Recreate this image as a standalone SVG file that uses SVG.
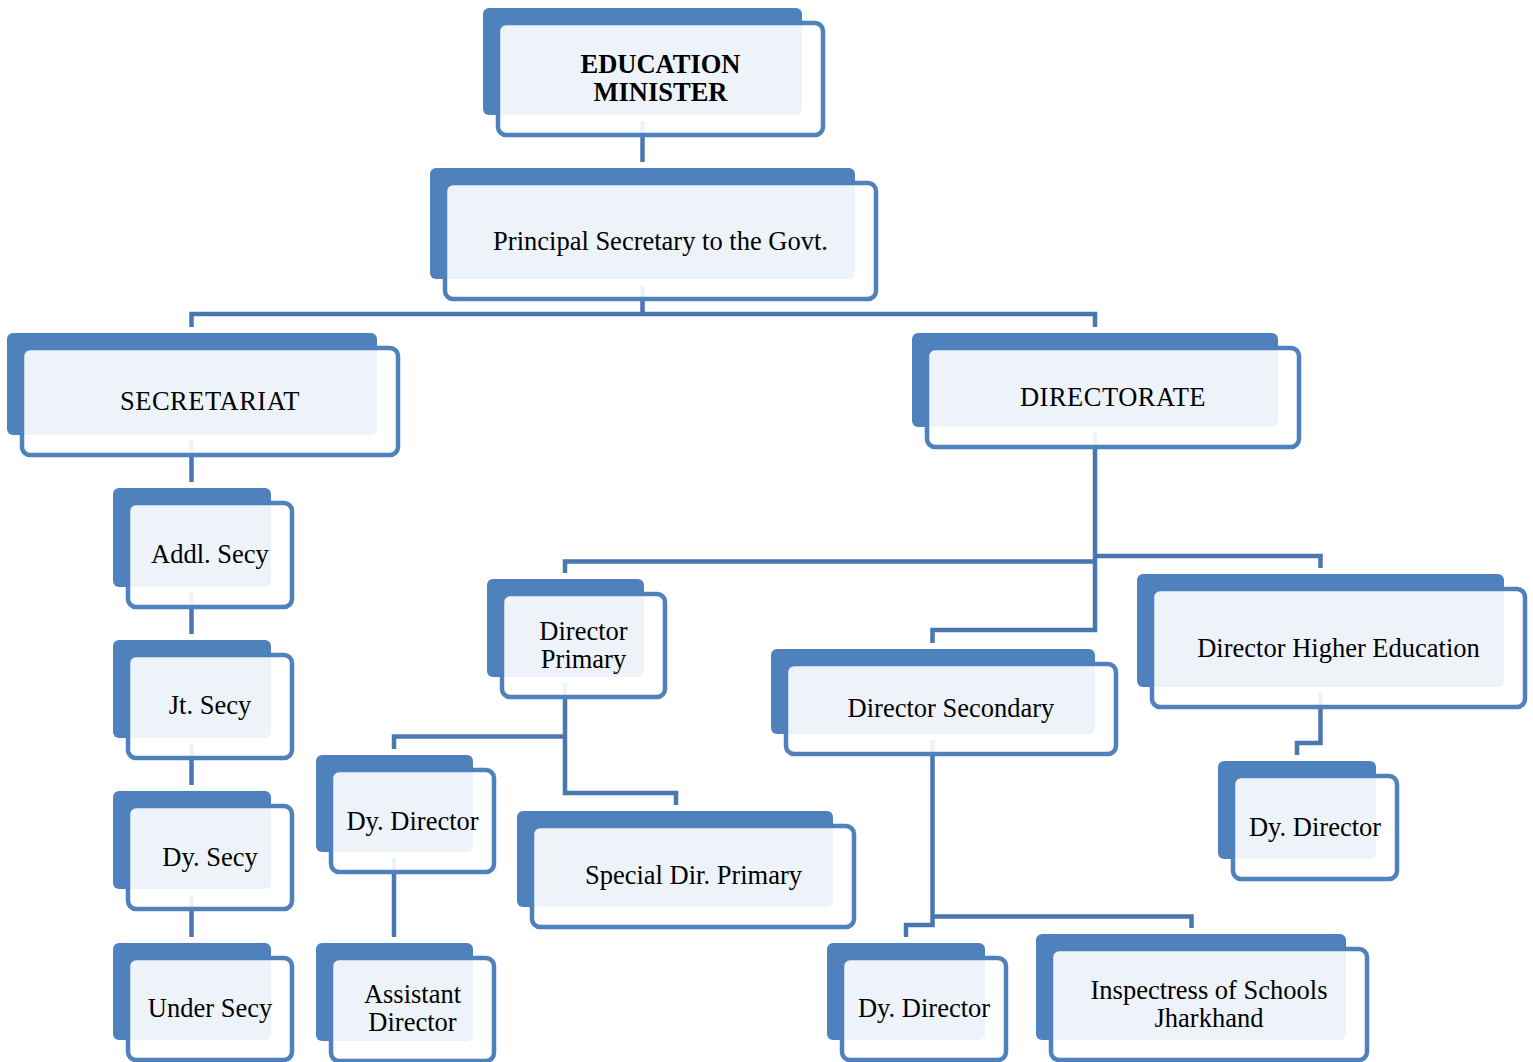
<svg xmlns="http://www.w3.org/2000/svg" width="1533" height="1062" viewBox="0 0 1533 1062">
<style>
.bk{fill:#4f81bd}
.fr{fill:#fff;fill-opacity:.9;stroke:#4f81bd;stroke-width:4.5}
.t{font-family:"Liberation Serif","Times New Roman",serif;font-size:26.5px;fill:#000;text-anchor:middle}
.b{font-weight:bold}
.c{letter-spacing:0.5px}
#connectors path{fill:none;stroke:#4a77b0;stroke-width:4.5;stroke-linejoin:miter;stroke-linecap:butt}
</style>
<rect width="1533" height="1062" fill="#fff"/>
<g id="connectors">
<path d="M642.5 121V162"/>
<path d="M642.5 285V314"/>
<path d="M191.5 327V314H1095V327"/>
<path d="M191.5 441V482"/>
<path d="M191.5 593V634"/>
<path d="M191.5 744V785"/>
<path d="M191.5 895V937"/>
<path d="M1095 433V630H932.5V643"/>
<path d="M565 573V561.5H1095"/>
<path d="M1095 556H1320.5V568"/>
<path d="M565 683V793H676V805"/>
<path d="M565 736.5H394V749"/>
<path d="M394 858V937"/>
<path d="M932.5 740V925H906V937"/>
<path d="M932.5 916.5H1191.5V928"/>
<path d="M1320.5 693V743H1297V755"/>
</g>
<g id="minister">
<rect class="bk" x="483" y="8" width="319" height="107" rx="6"/>
<rect class="fr" x="498" y="23" width="325" height="112" rx="8"/>
<text class="t b" x="660.5" y="73">EDUCATION</text>
<text class="t b" x="660.5" y="101">MINISTER</text>
</g>
<g id="psec">
<rect class="bk" x="430" y="168" width="425" height="111" rx="6"/>
<rect class="fr" x="445" y="183" width="431" height="116" rx="8"/>
<text class="t" x="660.5" y="249.5">Principal Secretary to the Govt.</text>
</g>
<g id="secretariat">
<rect class="bk" x="7" y="333" width="370" height="102" rx="6"/>
<rect class="fr" x="22" y="348" width="376" height="107" rx="8"/>
<text class="t c" x="210" y="410">SECRETARIAT</text>
</g>
<g id="directorate">
<rect class="bk" x="912" y="333" width="366" height="94" rx="6"/>
<rect class="fr" x="927" y="348" width="372" height="99" rx="8"/>
<text class="t c" x="1113" y="406">DIRECTORATE</text>
</g>
<g id="addl-secy">
<rect class="bk" x="113" y="488" width="158" height="99" rx="6"/>
<rect class="fr" x="128" y="503" width="164" height="104" rx="8"/>
<text class="t" x="210" y="563">Addl. Secy</text>
</g>
<g id="jt-secy">
<rect class="bk" x="113" y="640" width="158" height="98" rx="6"/>
<rect class="fr" x="128" y="655" width="164" height="103" rx="8"/>
<text class="t" x="210" y="714">Jt. Secy</text>
</g>
<g id="dy-secy">
<rect class="bk" x="113" y="791" width="158" height="98" rx="6"/>
<rect class="fr" x="128" y="806" width="164" height="103" rx="8"/>
<text class="t" x="210" y="866">Dy. Secy</text>
</g>
<g id="under-secy">
<rect class="bk" x="113" y="943" width="158" height="97" rx="6"/>
<rect class="fr" x="128" y="958" width="164" height="102" rx="8"/>
<text class="t" x="210" y="1017">Under Secy</text>
</g>
<g id="dir-primary">
<rect class="bk" x="487" y="579" width="157" height="98" rx="6"/>
<rect class="fr" x="502" y="594" width="163" height="103" rx="8"/>
<text class="t" x="583.5" y="639.5">Director</text>
<text class="t" x="583.5" y="667.5">Primary</text>
</g>
<g id="dy-director-primary">
<rect class="bk" x="316" y="755" width="157" height="97" rx="6"/>
<rect class="fr" x="331" y="770" width="163" height="102" rx="8"/>
<text class="t" x="412.5" y="829.5">Dy. Director</text>
</g>
<g id="asst-director">
<rect class="bk" x="316" y="943" width="157" height="98" rx="6"/>
<rect class="fr" x="331" y="958" width="163" height="103" rx="8"/>
<text class="t" x="412.5" y="1002.5">Assistant</text>
<text class="t" x="412.5" y="1030.5">Director</text>
</g>
<g id="special-dir-primary">
<rect class="bk" x="517" y="811" width="316" height="96" rx="6"/>
<rect class="fr" x="532" y="826" width="322" height="101" rx="8"/>
<text class="t" x="693.5" y="884">Special Dir. Primary</text>
</g>
<g id="dir-secondary">
<rect class="bk" x="771" y="649" width="324" height="85" rx="6"/>
<rect class="fr" x="786" y="664" width="330" height="90" rx="8"/>
<text class="t" x="951" y="717">Director Secondary</text>
</g>
<g id="dir-higher">
<rect class="bk" x="1137" y="574" width="367" height="113" rx="6"/>
<rect class="fr" x="1152" y="589" width="373" height="118" rx="8"/>
<text class="t" x="1338.5" y="657">Director Higher Education</text>
</g>
<g id="dy-director-higher">
<rect class="bk" x="1218" y="761" width="158" height="98" rx="6"/>
<rect class="fr" x="1233" y="776" width="164" height="103" rx="8"/>
<text class="t" x="1315" y="836">Dy. Director</text>
</g>
<g id="dy-director-secondary">
<rect class="bk" x="827" y="943" width="158" height="97" rx="6"/>
<rect class="fr" x="842" y="958" width="164" height="102" rx="8"/>
<text class="t" x="924" y="1017">Dy. Director</text>
</g>
<g id="inspectress">
<rect class="bk" x="1036" y="934" width="310" height="106" rx="6"/>
<rect class="fr" x="1051" y="949" width="316" height="111" rx="8"/>
<text class="t" x="1209" y="998.5">Inspectress of Schools</text>
<text class="t" x="1209" y="1026.5">Jharkhand</text>
</g>
</svg>
